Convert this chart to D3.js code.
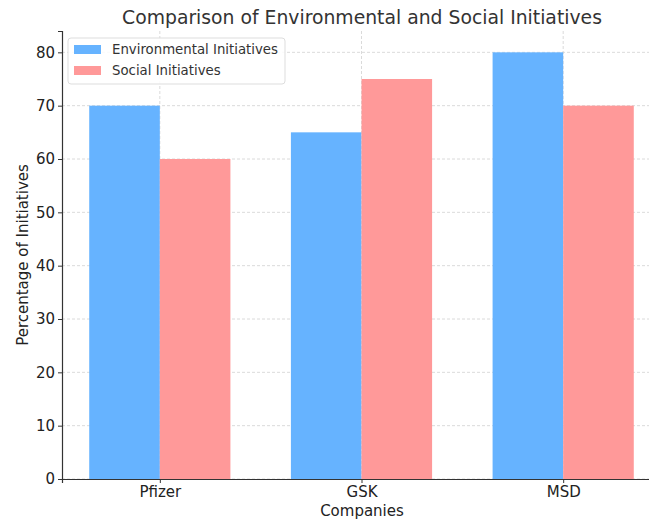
<!DOCTYPE html>
<html><head><meta charset="utf-8">
<script src="https://cdn.jsdelivr.net/npm/d3@7"></script>
<style>body{margin:0;background:#fff;} text{font-family:"DejaVu Sans",sans-serif;}</style>
</head><body>
<svg id="c" width="649" height="520"></svg>
<script>
const companies = ["Pfizer", "GSK", "MSD"];
const environmental = [70, 65, 80];
const social = [60, 75, 70];
const seriesNames = ["Environmental Initiatives", "Social Initiatives"];
const seriesColors = ["#66b3ff", "#ff9999"];
const yTicks = [0, 10, 20, 30, 40, 50, 60, 70, 80];

const svg = d3.select("#c");
const mLeft = 62, mBottom = 479, mTop = 31;
const x = d3.scaleLinear().domain([-0.485, 2.485]).range([mLeft, 661]);
const y = d3.scaleLinear().domain([0, 84]).range([mBottom, mTop]);
const bw = 0.35;

// grid
const g = svg.append("g");
yTicks.forEach(t => g.append("line").attr("x1", mLeft).attr("x2", 661).attr("y1", y(t)).attr("y2", y(t))
  .attr("stroke", "#d0d0d0").attr("stroke-dasharray", "3,2").attr("stroke-width", 0.8));
companies.forEach((c, i) => g.append("line").attr("x1", x(i)).attr("x2", x(i)).attr("y1", mTop).attr("y2", mBottom)
  .attr("stroke", "#d0d0d0").attr("stroke-dasharray", "3,2").attr("stroke-width", 0.8));

// bars
[environmental, social].forEach((vals, s) => {
  svg.append("g").selectAll("rect").data(vals).join("rect")
    .attr("x", (d, i) => x(i - bw + s * bw))
    .attr("width", x(bw) - x(0))
    .attr("y", d => y(d))
    .attr("height", d => y(0) - y(d))
    .attr("fill", seriesColors[s]);
});

// axes
const yAxis = d3.axisLeft(y).tickValues(yTicks).tickSize(4).tickPadding(3);
const ya = svg.append("g").attr("transform", `translate(${mLeft},0)`).call(yAxis);
ya.select(".domain").attr("stroke", "#333").attr("stroke-width", 1.2);
ya.selectAll(".tick line").attr("stroke", "#333");
ya.selectAll("text").attr("font-size", 15).attr("fill", "#222").style("font-family", "DejaVu Sans");

const xAxis = d3.axisBottom(x).tickValues([0, 1, 2]).tickFormat(i => companies[i]).tickSize(4).tickPadding(3);
const xa = svg.append("g").attr("transform", `translate(0,${mBottom})`).call(xAxis);
xa.select(".domain").attr("stroke", "#333").attr("stroke-width", 1.2);
xa.selectAll(".tick line").attr("stroke", "#333");
xa.selectAll("text").attr("font-size", 15).attr("fill", "#222").style("font-family", "DejaVu Sans");

// labels
svg.append("text").attr("x", 362).attr("y", 24).attr("text-anchor", "middle")
  .attr("font-size", 18.8).attr("fill", "#333").text("Comparison of Environmental and Social Initiatives");
svg.append("text").attr("x", 362).attr("y", 515.5).attr("text-anchor", "middle")
  .attr("font-size", 15).attr("fill", "#222").text("Companies");
svg.append("text").attr("transform", `translate(28,${(mTop + mBottom) / 2}) rotate(-90)`).attr("text-anchor", "middle")
  .attr("font-size", 15).attr("fill", "#222").text("Percentage of Initiatives");

// legend
const lg = svg.append("g").attr("transform", "translate(68,38)");
lg.append("rect").attr("width", 217).attr("height", 46).attr("rx", 3)
  .attr("fill", "#fff").attr("fill-opacity", 0.85).attr("stroke", "#ddd");
seriesNames.forEach((n, i) => {
  lg.append("rect").attr("x", 6).attr("y", 7 + i * 21).attr("width", 27).attr("height", 9).attr("fill", seriesColors[i]);
  lg.append("text").attr("x", 44).attr("y", 16 + i * 21).attr("font-size", 13.3).attr("fill", "#333").text(n);
});
</script>
</body></html>
